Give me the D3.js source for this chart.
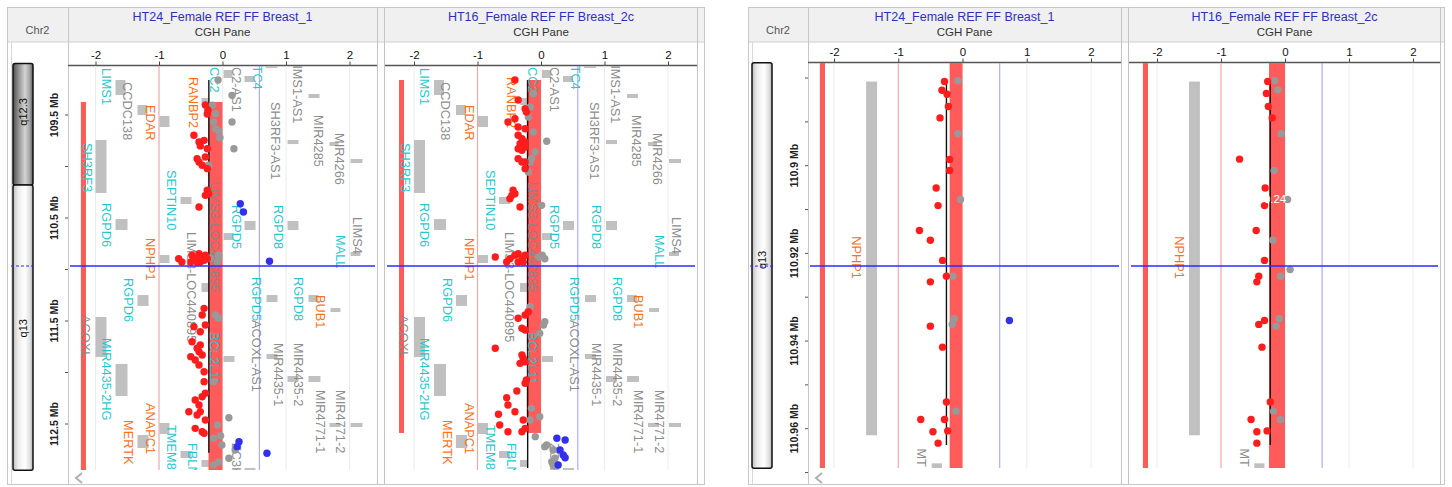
<!DOCTYPE html>
<html><head><meta charset="utf-8">
<script src="https://cdn.jsdelivr.net/npm/d3@7"></script>
<style>
body{margin:0;background:#fff;}
svg{display:block;font-family:"Liberation Sans",Arial,sans-serif;}
</style></head><body>
<svg id="c" width="1452" height="487"></svg>
<script>
// ---------------- DATA ----------------
const xTicks = [-2, -1, 0, 1, 2];
const gridValues = [-2, -1, 0, 1, 2];
const thresholdLow = -1;     // pink line
const thresholdHigh = 0.58;  // blue line
const panelTitles = ["HT24_Female REF FF Breast_1", "HT16_Female REF FF Breast_2c"];
const paneName = "CGH Pane";
const chromName = "Chr2";

// wide view (left screenshot)
const wideYMajor = [109.5, 110.5, 111.5, 112.5];
const wideYMajorLabels = ["109.5 Mb", "110.5 Mb", "111.5 Mb", "112.5 Mb"];
const wideYMinor = [110, 111, 112];
const wideBands = [["q12.3", 109.0, 110.18, "dark", 109.47], ["q13", 110.18, 112.95, "light", 111.57]];
const wideCursor = 110.966;

// zoom view (right screenshot)
const zoomYMajor = [110.90, 110.92, 110.94, 110.96];
const zoomYMajorLabels = ["110.9 Mb", "110.92 Mb", "110.94 Mb", "110.96 Mb"];
const zoomYMinor = [110.88, 110.89, 110.91, 110.93, 110.95, 110.97];
const zoomBands = [["q13", 110.8765, 110.969, "light", 110.9215]];
const zoomCursor = 110.9229;

// gene annotations, wide view: [name, colour, x, start Mb]
const wideGeneLabels = [
  ["LIMS1","cyan",-1.83,109.044],["CCDC138","gray",-1.50,109.18],["EDAR","orange",-1.13,109.403],
  ["RANBP2","orange",-0.46,109.131],["CC2","cyan",-0.13,109.034],["C2-AS1","gray",0.22,109.034],
  ["TC4","cyan",0.55,109.02],["LIMS1-AS1","gray",1.18,108.947],["SH3RF3-AS1","gray",0.835,109.374],
  ["MIR4285","gray",1.51,109.5],["MIR4266","gray",1.84,109.675],["SH3RF3","cyan",-2.13,109.772],
  ["SEPTIN10","cyan",-0.80,110.034],["LIMS3-LOC440895","gray",-0.13,110.15],["RGPD5","cyan",0.22,110.374],
  ["RGPD8","cyan",0.88,110.374],["LIMS4","gray",2.13,110.49],["RGPD6","cyan",-1.83,110.354],
  ["NPHP1","orange",-1.13,110.694],["LIMS3-LOC440895","gray",-0.49,110.636],["MALL","cyan",1.86,110.665],
  ["RGPD6","cyan",-1.48,111.083],["RGPD5","cyan",0.535,111.073],["ACOXL-AS1","gray",0.535,111.49],
  ["RGPD8","cyan",1.20,111.073],["BUB1","orange",1.54,111.248],["ACOXL","gray",-2.16,111.442],
  ["MIR4435-2HG","cyan",-1.83,111.665],["BCL2L11","cyan",-0.13,111.607],["MIR4435-1","gray",0.88,111.714],
  ["MIR4435-2","gray",1.20,111.714],["MIR4771-1","gray",1.54,112.17],["MIR4771-2","gray",1.86,112.17],
  ["ANAPC1","orange",-1.13,112.296],["MERTK","orange",-1.48,112.461],["TMEM87B","cyan",-0.80,112.51],
  ["FBLN7","cyan",-0.47,112.684],["ZC3H6","gray",0.22,112.684]
];
// gene bodies, wide view: [x0, x1, Mb0, Mb1]
const wideGeneRects = [
  [-1.685,-1.528,109.16,109.306],[-1.339,-1.181,109.403,109.5],[-0.992,-0.835,109.51,109.617],
  [-0.331,-0.22,109.335,109.403],[0.016,0.157,109.063,109.141],[0.346,0.504,109.121,109.18],
  [0.677,0.866,109.0,109.044],[1.354,1.528,109.296,109.335],[1.024,1.197,109.743,109.782],
  [1.685,1.827,109.762,109.801],[2.016,2.205,109.927,109.966],[-2.0,-1.827,109.743,110.257],
  [-0.661,-0.488,110.296,110.364],[0.346,0.52,110.529,110.617],[1.024,1.197,110.529,110.617],
  [2.016,2.173,110.83,110.869],[-1.685,-1.496,110.51,110.617],[-0.992,-0.835,110.859,110.937],
  [-0.331,-0.205,111.131,111.218],[0.016,0.173,110.646,110.714],[-1.339,-1.165,111.248,111.354],
  [0.693,0.866,111.248,111.316],[1.354,1.512,111.248,111.316],[1.701,1.858,111.374,111.413],
  [-2.0,-1.827,111.461,111.85],[-1.685,-1.496,111.917,112.228],[0.016,0.189,111.84,111.898],
  [0.693,0.866,111.82,111.869],[1.024,1.197,112.034,112.092],[1.354,1.543,112.034,112.092],
  [1.685,1.858,112.49,112.529],[2.016,2.205,112.49,112.529],[-0.992,-0.835,112.49,112.597],
  [-1.339,-1.165,112.607,112.733],[-0.661,-0.488,112.762,112.83],[-0.331,-0.205,112.849,112.917],
  [0.346,0.52,112.927,112.95]
];
const zoomGeneLabels = [["NPHP1","orange",-1.65,110.9161],["MT","gray",-0.64,110.9645]];
const zoomGeneRects = [[-1.5,-1.33,110.8808,110.9615],[-0.48,-0.32,110.9679,110.9692]];

// aberration segments [x0, x1, Mb0, Mb1] and mean line [x, Mb0, Mb1]
const wideP1Bars = [[-2.23,-2.15,109.374,112.95],[-0.22,0,109.374,112.95]];
const wideP1Line = [-0.215,109.16,112.78];
const wideP2Bars = [[-2.236,-2.157,109.16,112.587],[-0.225,0,109.16,112.587]];
const wideP2Line = [-0.21,109.16,112.927];
const zoomP1Bars = [[-2.22,-2.14,110.8765,110.969],[-0.2,0,110.8765,110.969]];
const zoomP1Line = [-0.25,110.8806,110.9637];
const zoomP2Bars = [[-2.22,-2.14,110.8765,110.969],[-0.25,0,110.8765,110.969]];
const zoomP2Line = [-0.23,110.8806,110.9637];

// probes [Mb, log ratio]
const wideP1Red = [
 [109.403,-0.27],[109.451,-0.23],[109.49,-0.24],[109.697,-0.45],[109.762,-0.37],[109.746,-0.29],[109.80,-0.35],
 [109.827,-0.24],[109.924,-0.40],[109.956,-0.37],[109.908,-0.27],[109.988,-0.32],[110.021,-0.24],[110.231,-0.24],
 [110.28,-0.27],[110.264,-0.22],[110.393,-0.37],
 [110.895,-0.69],[110.927,-0.64],[110.862,-0.48],[110.895,-0.43],[110.847,-0.37],[110.879,-0.32],[110.862,-0.27],
 [110.927,-0.40],[110.927,-0.35],[110.911,-0.29],[110.895,-0.24],[110.927,-0.50],
 [111.377,-0.29],[111.442,-0.32],[111.539,-0.27],[111.555,-0.45],[111.604,-0.35],[111.701,-0.48],[111.765,-0.40],
 [111.733,-0.35],[111.798,-0.37],[111.83,-0.32],[111.846,-0.50],[111.879,-0.43],[111.927,-0.37],[111.992,-0.29],
 [112.089,-0.29],[112.202,-0.27],[112.235,-0.32],[112.267,-0.43],[112.316,-0.37],[112.381,-0.53],[112.381,-0.35],
 [112.413,-0.40],[112.461,-0.27],[112.542,-0.43],[112.575,-0.32],[112.59,-0.29]
];
const wideP1Gray = [
 [109.16,-0.07],[109.309,0.15],[109.406,-0.16],[109.487,-0.11],[109.568,-0.14],[109.568,0.15],[109.633,-0.11],
 [109.655,-0.06],[109.72,-0.04],[109.827,0.18],[109.988,-0.22],[110.876,-0.06],[110.891,-0.19],[110.859,-0.06],
 [110.927,-0.08],[111.442,-0.11],[111.474,-0.06],[112.089,-0.14],[112.439,0.10],[112.51,-0.08],[112.614,-0.03],
 [112.639,-0.14],[112.704,-0.01],[112.752,0.20],[112.833,0.10],[112.869,-0.06],[112.898,-0.14]
];
const wideP1Blue = [[110.361,0.28],[110.442,0.33],[110.92,0.74],[112.672,0.26],[112.72,0.23],[112.784,0.70]];

const wideP2Red = [
 [109.16,-0.41],[109.354,-0.36],[109.439,-0.25],[109.471,-0.23],[109.536,-0.41],[109.568,-0.52],[109.617,-0.36],
 [109.633,-0.25],[109.697,-0.36],[109.73,-0.30],[109.779,-0.33],[109.762,-0.25],[109.827,-0.36],[109.843,-0.30],
 [109.811,-0.25],[109.924,-0.36],[109.956,-0.30],[109.956,-0.25],[110.021,-0.25],[110.231,-0.44],[110.264,-0.41],
 [110.28,-0.46],[110.313,-0.49],[110.393,-0.33],
 [110.879,-0.72],[110.927,-0.54],[110.895,-0.49],[110.862,-0.41],[110.847,-0.36],[110.895,-0.30],[110.862,-0.25],
 [110.927,-0.36],[110.927,-0.28],
 [111.41,-0.20],[111.474,-0.36],[111.442,-0.25],[111.571,-0.30],[111.587,-0.25],[111.765,-0.72],[111.83,-0.30],
 [111.862,-0.28],[111.911,-0.33],[111.895,-0.25],[112.073,-0.23],[112.105,-0.25],[112.18,-0.38],[112.245,-0.54],
 [112.316,-0.52],[112.381,-0.41],[112.406,-0.67],[112.51,-0.65],[112.575,-0.52],[112.461,-0.28],[112.542,-0.25],
 [112.575,-0.30]
];
const wideP2Gray = [
 [109.293,-0.12],[109.422,-0.17],[109.519,-0.20],[109.665,-0.12],[109.755,0.09],[109.859,-0.09],[109.924,-0.15],
 [109.956,-0.17],[110.053,-0.20],[110.377,0.01],[110.879,-0.04],[110.895,0.06],[110.862,0.02],
 [111.361,-0.17],[111.62,-0.02],[111.507,0.06],[111.539,0.04],[112.348,-0.15],[112.429,-0.02],[112.461,-0.17],
 [112.623,-0.09],[112.704,0.09],[112.72,0.06],[112.752,0.19],[112.833,0.22],[112.866,0.17],[112.898,0.19]
];
const wideP2Blue = [[112.639,0.25],[112.655,0.38],[112.752,0.30],[112.80,0.35],[112.827,0.38],[112.898,0.27]];

const zoomP1Red = [
 [110.8808,-0.28],[110.8828,-0.32],[110.8837,-0.24],[110.8865,-0.22],[110.8891,-0.35],[110.8986,-0.20],
 [110.9011,-0.20],[110.9051,-0.41],[110.9091,-0.38],[110.9148,-0.67],[110.9170,-0.50],[110.9216,-0.31],
 [110.9252,-0.25],[110.9265,-0.50],[110.9366,-0.50],[110.9414,-0.31],[110.9539,-0.25],[110.9579,-0.65],
 [110.9579,-0.28],[110.9607,-0.46],[110.9605,-0.23],[110.9633,-0.38]
];
const zoomP1Gray = [[110.8806,-0.07],[110.8927,-0.07],[110.9077,-0.03],[110.9252,-0.15],[110.9349,-0.13],[110.9362,-0.16],[110.9560,-0.10]];
const zoomP1Blue = [[110.9353,0.73]];
const zoomP2Red = [
 [110.8808,-0.27],[110.8835,-0.29],[110.8865,-0.26],[110.8891,-0.20],[110.8985,-0.71],[110.9051,-0.31],
 [110.9091,-0.32],[110.9148,-0.45],[110.9216,-0.32],[110.9252,-0.41],[110.9265,-0.44],[110.9353,-0.32],
 [110.9362,-0.41],[110.9414,-0.36],[110.9539,-0.23],[110.9579,-0.53],[110.9605,-0.28],[110.9607,-0.44],[110.9633,-0.44]
];
const zoomP2Gray = [
 [110.8806,-0.16],[110.8827,-0.11],[110.8927,-0.06],[110.9011,-0.17],[110.9077,0.04],[110.9170,-0.19],
 [110.9237,0.08],[110.9252,-0.07],[110.9349,-0.09],[110.9366,-0.14],[110.9560,-0.18],[110.9579,-0.07]
];
const zoomP2Blue = [];
const zoomP2Notes = [[110.9077, 0.02, "-0.24"]];

// ---------------- DRAWING ----------------
const COL = {cyan:"#14c8cc", orange:"#ff6a10", gray:"#878787"};
const svg = d3.select("#c");
const defs = svg.append("defs");
function grad(id, stops){
  const lg = defs.append("linearGradient").attr("id",id).attr("x1","0").attr("x2","1").attr("y1","0").attr("y2","0");
  stops.forEach(s=>lg.append("stop").attr("offset",s[0]).attr("stop-color",s[1]));
}
grad("gDark",[[0,"#505050"],[0.25,"#8a8a8a"],[0.6,"#d4d4d4"],[0.85,"#a0a0a0"],[1,"#555"]]);
grad("gLight",[[0,"#bdbdbd"],[0.25,"#ececec"],[0.6,"#ffffff"],[0.85,"#e0e0e0"],[1,"#b0b0b0"]]);

let clipN = 0;
function drawView(v, panels, bands, yMajor, yMajorLabels, yMinor, cursor, geneLabels, geneRects){
  const g = svg.append("g");
  const y = d3.scaleLinear().domain(v.yDomain).range(v.yRange);
  const top = 7, hb = 42, bottom = 485;
  // header band
  g.append("rect").attr("x",v.x0).attr("y",top).attr("width",v.x1-v.x0).attr("height",hb-top).attr("fill","#f0f0f0");
  g.append("line").attr("x1",v.x0).attr("x2",v.x1).attr("y1",hb).attr("y2",hb).attr("stroke","#cfcfcf");
  // outer frame
  g.append("rect").attr("x",v.x0+0.5).attr("y",top+0.5).attr("width",v.x1-v.x0-1).attr("height",bottom-top-1)
    .attr("fill","none").attr("stroke","#c8c8c8");
  g.append("line").attr("x1",v.x0+4.5).attr("x2",v.x0+4.5).attr("y1",hb).attr("y2",bottom).attr("stroke","#d8d8d8");
  g.append("line").attr("x1",v.chrRight+0.5).attr("x2",v.chrRight+0.5).attr("y1",top).attr("y2",bottom).attr("stroke","#c8c8c8");
  v.dividers.forEach(d=>g.append("line").attr("x1",d+0.5).attr("x2",d+0.5).attr("y1",top).attr("y2",bottom).attr("stroke","#c4c4c4"));
  g.append("text").attr("x",(v.x0+v.chrRight)/2).attr("y",34).attr("text-anchor","middle")
    .attr("font-size",11).attr("fill","#555").text(chromName);

  // ideogram
  bands.forEach(b=>{
    const y0=y(b[1]), y1=y(b[2]);
    g.append("rect").attr("x",v.ideo[0]).attr("y",y0).attr("width",v.ideo[1]-v.ideo[0]).attr("height",y1-y0)
      .attr("rx",2).attr("fill",b[3]==="dark"?"url(#gDark)":"url(#gLight)").attr("stroke","#111").attr("stroke-width",1.5);
    const cy=y(b[4]), cx=(v.ideo[0]+v.ideo[1])/2;
    g.append("text").attr("transform",`translate(${cx},${cy}) rotate(-90)`).attr("text-anchor","middle")
      .attr("dominant-baseline","central").attr("font-size",11).attr("fill","#111").text(b[0]);
  });
  g.append("line").attr("x1",v.ideo[0]-2).attr("x2",v.ideo[1]+3).attr("y1",y(cursor)).attr("y2",y(cursor))
    .attr("stroke","#2b2bff").attr("stroke-dasharray","3,2").attr("stroke-width",1);

  // y axis ticks
  yMinor.concat(yMajor).forEach(t=>{
    g.append("line").attr("x1",v.chrRight-3).attr("x2",v.chrRight).attr("y1",y(t)).attr("y2",y(t)).attr("stroke","#555");
  });
  yMajor.forEach((t,i)=>{
    g.append("text").attr("transform",`translate(${v.chrRight-14},${y(t)}) rotate(-90)`).attr("text-anchor","middle")
      .attr("dominant-baseline","central").attr("font-size",10.5).attr("font-weight","bold").attr("fill","#222").text(yMajorLabels[i]);
  });
  // scroll arrow
  g.append("path").attr("d",`M${v.chrRight+14},${bottom-12} l-6,5 l6,5`).attr("fill","none").attr("stroke","#b0b0b0").attr("stroke-width",2);

  panels.forEach((p,pi)=>{
    const x = d3.scaleLinear().domain([-2,2]).range(p.tick);
    const [bx0,bx1] = p.box;
    const cx = (bx0+bx1)/2;
    g.append("text").attr("x",cx).attr("y",21).attr("text-anchor","middle").attr("font-size",12.5).attr("fill","#2f2fbf").text(panelTitles[pi]);
    g.append("text").attr("x",cx).attr("y",36).attr("text-anchor","middle").attr("font-size",11.5).attr("fill","#333").text(paneName);
    // axis
    const ax = g.append("g").attr("transform",`translate(0,${v.axisY})`)
      .call(d3.axisTop(x).tickValues(xTicks).tickSize(4).tickPadding(3).tickFormat(d=>String(d)));
    ax.select(".domain").remove();
    ax.selectAll("text").attr("font-size",11.5).attr("fill","#111").attr("font-family","Liberation Sans, Arial, sans-serif");
    ax.selectAll("line").attr("stroke","#444");
    g.append("line").attr("x1",bx0).attr("x2",bx1).attr("y1",v.axisY).attr("y2",v.axisY).attr("stroke","#555").attr("stroke-width",1.5);

    const id = "clip"+(clipN++);
    defs.append("clipPath").attr("id",id).append("rect").attr("x",bx0).attr("y",v.plotTop).attr("width",bx1-bx0).attr("height",v.plotBottom-v.plotTop);
    const pg = g.append("g").attr("clip-path",`url(#${id})`);
    gridValues.forEach(t=>pg.append("line").attr("x1",x(t)).attr("x2",x(t)).attr("y1",v.plotTop).attr("y2",v.plotBottom).attr("stroke","#ececec"));
    pg.append("line").attr("x1",x(thresholdLow)).attr("x2",x(thresholdLow)).attr("y1",v.plotTop).attr("y2",v.plotBottom).attr("stroke","#ff9c9c");
    pg.append("line").attr("x1",x(thresholdHigh)).attr("x2",x(thresholdHigh)).attr("y1",v.plotTop).attr("y2",v.plotBottom).attr("stroke","#9a9aff");
    // gene bodies
    geneRects.forEach(r=>pg.append("rect").attr("x",x(r[0])).attr("width",x(r[1])-x(r[0])).attr("y",y(r[2])).attr("height",Math.max(2,y(r[3])-y(r[2]))).attr("fill","#c0c0c0"));
    // aberration bars
    p.bars.forEach(b=>pg.append("rect").attr("x",x(b[0])).attr("width",x(b[1])-x(b[0])).attr("y",y(b[2])).attr("height",y(b[3])-y(b[2])).attr("fill","#ff5b5b"));
    pg.append("line").attr("x1",x(p.line[0])).attr("x2",x(p.line[0])).attr("y1",y(p.line[1])).attr("y2",y(p.line[2])).attr("stroke","#111").attr("stroke-width",1.4);
    // gene labels
    geneLabels.forEach(l=>pg.append("text").attr("transform",`translate(${x(l[2])},${y(l[3])}) rotate(90)`)
      .attr("dominant-baseline","central").attr("font-size",12.8).attr("fill",COL[l[1]]).attr("opacity",0.95).text(l[0]));
    // probes
    const dot=(arr,c)=>arr.forEach(d=>pg.append("circle").attr("cx",x(d[1])).attr("cy",y(d[0])).attr("r",3.7).attr("fill",c));
    dot(p.gray,"#999999"); dot(p.red,"#ff1c1c"); dot(p.blue,"#3030ee");
    (p.notes||[]).forEach(n=>pg.append("text").attr("x",x(n[1])).attr("y",y(n[0])).attr("text-anchor","end")
      .attr("dominant-baseline","central").attr("font-size",11.5).attr("fill","#fff").text(n[2]));
    // cursor
    g.append("line").attr("x1",bx0+2).attr("x2",bx1-2).attr("y1",y(cursor)).attr("y2",y(cursor)).attr("stroke","#2b2bff").attr("stroke-width",1.5);
  });
}

drawView({x0:7,x1:705,chrRight:68,dividers:[377,384,697],ideo:[13,33],axisY:65.5,plotTop:66,plotBottom:470,
          yDomain:[109.5,112.5],yRange:[115,424]},
  [{box:[68,377],tick:[95.5,349.5],bars:wideP1Bars,line:wideP1Line,red:wideP1Red,gray:wideP1Gray,blue:wideP1Blue},
   {box:[385,697],tick:[414,668],bars:wideP2Bars,line:wideP2Line,red:wideP2Red,gray:wideP2Gray,blue:wideP2Blue}],
  wideBands, wideYMajor, wideYMajorLabels, wideYMinor, wideCursor, wideGeneLabels, wideGeneRects);

drawView({x0:748,x1:1445,chrRight:808,dividers:[1121,1128,1440],ideo:[752,772],axisY:62.5,plotTop:63,plotBottom:468,
          yDomain:[110.90,110.96],yRange:[165.7,428.7]},
  [{box:[808,1121],tick:[834,1091],bars:zoomP1Bars,line:zoomP1Line,red:zoomP1Red,gray:zoomP1Gray,blue:zoomP1Blue},
   {box:[1129,1440],tick:[1157,1413],bars:zoomP2Bars,line:zoomP2Line,red:zoomP2Red,gray:zoomP2Gray,blue:zoomP2Blue,notes:zoomP2Notes}],
  zoomBands, zoomYMajor, zoomYMajorLabels, zoomYMinor, zoomCursor, zoomGeneLabels, zoomGeneRects);
</script></body></html>
